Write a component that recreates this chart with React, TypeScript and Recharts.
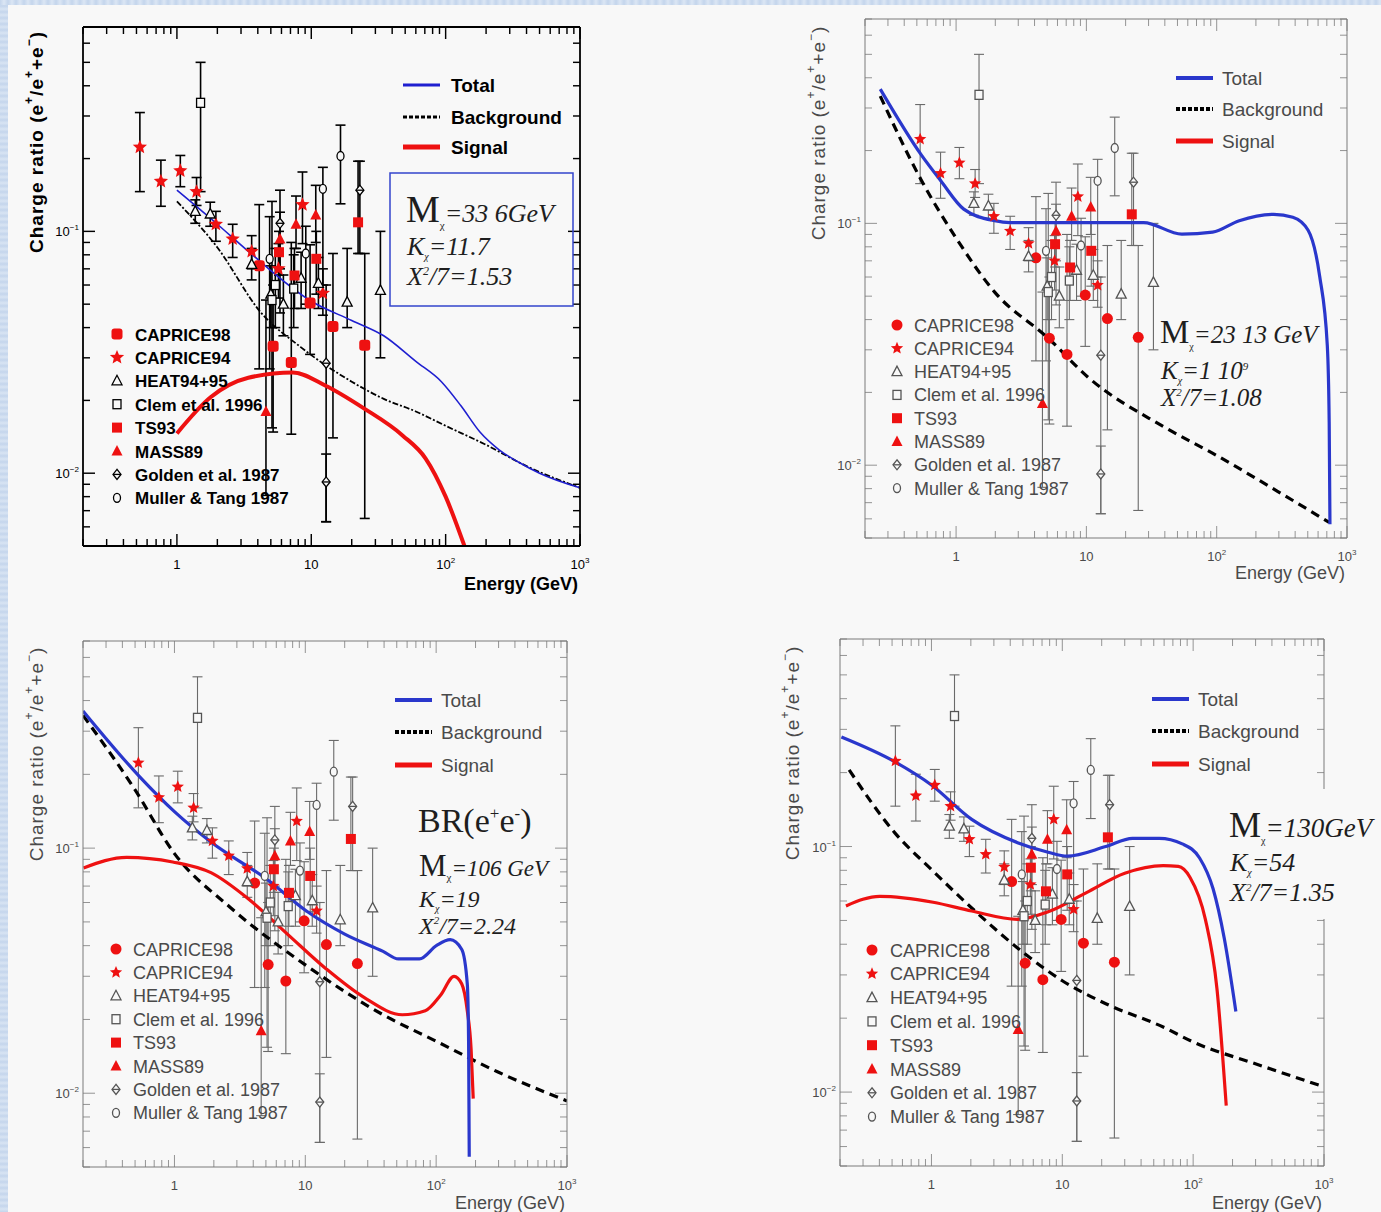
import React from "react";
import { ComposedChart, Line, Scatter, ErrorBar, XAxis, YAxis } from "recharts";

const PAGE_W = 1381;
const PAGE_H = 1212;
const BG = "#f8f8f8";
const RED = "#ee1111";
const SANS = "'Liberation Sans', Arial, sans-serif";
const SERIF = "'Liberation Serif', 'Times New Roman', serif";

// axes (log-log)
const xDomain = [0.2, 1000];
const yDomain = [0.005, 0.7];
const xMinorTicks = [0.2, 0.3, 0.4, 0.5, 0.6, 0.7, 0.8, 0.9, 2, 3, 4, 5, 6, 7, 8, 9, 20, 30, 40, 50, 60, 70, 80, 90, 200, 300, 400, 500, 600, 700, 800, 900];
const xMajorTicks = [1, 10, 100, 1000];
const xMajorLabels = ["1", "10", "10^2", "10^3"];
const yMinorTicks = [0.005, 0.006, 0.007, 0.008, 0.009, 0.02, 0.03, 0.04, 0.05, 0.06, 0.07, 0.08, 0.09, 0.2, 0.3, 0.4, 0.5, 0.6, 0.7];
const yMajorTicks = [0.01, 0.1];
const yMajorLabels = ["10^−2", "10^−1"];
const xTicks = [...xMinorTicks, ...xMajorTicks].sort((a, b) => a - b);
const yTicks = [...yMinorTicks, ...yMajorTicks].sort((a, b) => a - b);

// measurements: energy (GeV), e+/(e+ + e-), lower / upper end of error bar
const caprice98E = [4.1, 5.2, 7.1, 9.8, 14.5, 25];
const caprice98R = [0.072, 0.0335, 0.0287, 0.0505, 0.0404, 0.0338];
const caprice98Lo = [0.027, 0.0148, 0.0145, 0.031, 0.014, 0.0065];
const caprice98Hi = [0.129, 0.06, 0.09, 0.088, 0.081, 0.081];

const caprice94E = [0.53, 0.76, 1.06, 1.4, 1.95, 2.6, 3.6, 5.7, 8.6, 12.2];
const caprice94R = [0.223, 0.161, 0.178, 0.146, 0.107, 0.093, 0.0826, 0.07, 0.129, 0.0555];
const caprice94Lo = [0.146, 0.127, 0.153, 0.128, 0.091, 0.078, 0.07, 0.053, 0.089, 0.045];
const caprice94Hi = [0.31, 0.197, 0.206, 0.167, 0.121, 0.107, 0.096, 0.089, 0.176, 0.07];

const heatE = [1.37, 1.77, 3.6, 5.0, 6.2, 8.4, 11.3, 18.5, 32.7];
const heatR = [0.121, 0.118, 0.073, 0.055, 0.05, 0.064, 0.061, 0.051, 0.057];
const heatLo = [0.108, 0.105, 0.063, 0.04, 0.037, 0.048, 0.048, 0.04, 0.03];
const heatHi = [0.135, 0.132, 0.085, 0.072, 0.066, 0.082, 0.078, 0.085, 0.1];

const clemE = [1.5, 5.1, 5.4, 7.4];
const clemR = [0.34, 0.052, 0.06, 0.058];
const clemLo = [0.146, 0.0154, 0.04, 0.04];
const clemHi = [0.5, 0.133, 0.085, 0.08];

const ts93E = [5.75, 7.5, 10.9, 22.3];
const ts93R = [0.082, 0.0657, 0.077, 0.109];
const ts93Lo = [0.066, 0.048, 0.055, 0.081];
const ts93Hi = [0.1, 0.085, 0.1, 0.195];

const mass89E = [4.6, 5.85, 7.7, 10.8];
const mass89R = [0.018, 0.093, 0.107, 0.117];
const mass89Lo = [0.0081, 0.07, 0.085, 0.09];
const mass89Hi = [0.052, 0.12, 0.14, 0.155];

const goldenE = [5.85, 12.9, 12.9, 23];
const goldenR = [0.108, 0.0285, 0.0092, 0.148];
const goldenLo = [0.046, 0.0063, 0.0063, 0.081];
const goldenHi = [0.148, 0.06, 0.012, 0.195];

const mullerE = [4.9, 9.1, 12.2, 16.5];
const mullerR = [0.077, 0.081, 0.15, 0.205];
const mullerLo = [0.027, 0.05, 0.06, 0.13];
const mullerHi = [0.115, 0.105, 0.184, 0.275];

// model curves, one set per panel
const total1E = [1, 2, 3.4, 10, 20, 34.6, 60, 93, 130, 180, 250, 350, 500, 1000];
const total1R = [0.148, 0.107, 0.0827, 0.0514, 0.0428, 0.037, 0.029, 0.0239, 0.019, 0.0148, 0.0125, 0.0111, 0.01, 0.0087];
const bg1E = [1, 2, 4.2, 8.3, 20, 34.6, 60, 100, 200, 400, 1000];
const bg1R = [0.133, 0.0858, 0.0463, 0.0333, 0.0239, 0.0203, 0.018, 0.0157, 0.0131, 0.0107, 0.0087];
const sig1E = [1, 1.78, 3.4, 7.3, 12.8, 24.8, 48, 71, 100, 138];
const sig1R = [0.0146, 0.0206, 0.0248, 0.0261, 0.023, 0.0185, 0.0143, 0.0115, 0.008, 0.005];

const total2E = [0.262, 0.544, 0.763, 1.145, 1.97, 2.58, 27.5, 54, 93, 149, 274, 384, 503, 617, 706, 730, 740];
const total2R = [0.359, 0.191, 0.15, 0.1145, 0.1026, 0.1007, 0.1007, 0.0903, 0.092, 0.1026, 0.109, 0.106, 0.0936, 0.0604, 0.0313, 0.0151, 0.0057];
const bg2E = [0.262, 0.544, 1, 1.97, 5.07, 10.5, 38.5, 99, 293, 730];
const bg2R = [0.336, 0.15, 0.087, 0.0521, 0.0336, 0.0229, 0.0145, 0.011, 0.0078, 0.0058];

const total3E = [0.2, 0.545, 1, 1.9, 5.2, 10.2, 20, 39.3, 51.5, 74.6, 101, 128, 157, 173, 177, 179];
const total3R = [0.363, 0.195, 0.141, 0.106, 0.074, 0.0554, 0.0446, 0.0379, 0.0353, 0.0353, 0.0401, 0.0423, 0.0386, 0.0279, 0.0163, 0.0055];
const sig3E = [0.202, 0.431, 0.97, 1.9, 3.72, 7.3, 14.3, 28.1, 55.1, 82.6, 108, 137, 157, 173, 185, 192];
const sig3R = [0.083, 0.0917, 0.0878, 0.0794, 0.0617, 0.0446, 0.0323, 0.0246, 0.0209, 0.0217, 0.0251, 0.03, 0.0279, 0.0217, 0.0151, 0.0095];
const bg3E = [0.2, 0.493, 1, 2.66, 10, 39.3, 100, 297, 1000];
const bg3R = [0.348, 0.175, 0.095, 0.0574, 0.0334, 0.0209, 0.0163, 0.0122, 0.0093];

const total4E = [0.205, 0.527, 1, 2.03, 4.55, 7.8, 10.9, 21.5, 34.4, 55, 82.6, 112, 142, 173, 212];
const total4R = [0.279, 0.221, 0.178, 0.129, 0.1037, 0.0948, 0.0914, 0.1, 0.108, 0.108, 0.1025, 0.0898, 0.0673, 0.0422, 0.0213];
const sig4E = [0.222, 0.403, 1.03, 2.03, 4.55, 7.8, 15.3, 30, 59, 77, 94.5, 124, 152, 179];
const sig4R = [0.0573, 0.0627, 0.0593, 0.0546, 0.0505, 0.0542, 0.0649, 0.0778, 0.0836, 0.083, 0.075, 0.0505, 0.0264, 0.0088];
const bg4E = [0.235, 0.527, 1, 2.03, 5.2, 10, 21.5, 59, 100, 318, 1000];
const bg4R = [0.205, 0.1134, 0.0806, 0.0562, 0.0365, 0.0284, 0.0229, 0.0184, 0.016, 0.0129, 0.0105];

const curve = (E: number[], R: number[]) => E.map((e, i) => ({ e, r: R[i] }));
const withErr = (E: number[], R: number[], Lo: number[], Hi: number[]) =>
  E.map((e, i) => ({ e, r: R[i], err: [R[i] - Lo[i], Hi[i] - R[i]] }));

const datasets = [
  { name: "CAPRICE98", kind: "circle", data: withErr(caprice98E, caprice98R, caprice98Lo, caprice98Hi) },
  { name: "CAPRICE94", kind: "star", data: withErr(caprice94E, caprice94R, caprice94Lo, caprice94Hi) },
  { name: "HEAT94+95", kind: "openTriangle", data: withErr(heatE, heatR, heatLo, heatHi) },
  { name: "Clem et al. 1996", kind: "openSquare", data: withErr(clemE, clemR, clemLo, clemHi) },
  { name: "TS93", kind: "square", data: withErr(ts93E, ts93R, ts93Lo, ts93Hi) },
  { name: "MASS89", kind: "triangle", data: withErr(mass89E, mass89R, mass89Lo, mass89Hi) },
  { name: "Golden et al. 1987", kind: "golden", data: withErr(goldenE, goldenR, goldenLo, goldenHi) },
  { name: "Muller & Tang 1987", kind: "muller", data: withErr(mullerE, mullerR, mullerLo, mullerHi) },
];

type Theme = {
  dark: boolean;
  frame: string;
  frameW: number;
  text: string;
  bar: string;
  barW: number;
  open: string;
  blue: string;
  blueW: number;
  bgDash: string;
  bgW: number;
  sigW: number;
  weight: number;
  legendSize: number;
};

const darkTheme: Theme = {
  dark: true, frame: "#000", frameW: 1.8, text: "#000", bar: "#000", barW: 1.6, open: "#000",
  blue: "#1f1fd0", blueW: 1.6, bgDash: "6 2 2 2", bgW: 1.8, sigW: 4, weight: 700, legendSize: 17,
};
const lightTheme: Theme = {
  dark: false, frame: "#7a7a7a", frameW: 1, text: "#4a4a4a", bar: "#6a6a6a", barW: 1.1, open: "#555",
  blue: "#2a37cc", blueW: 3.2, bgDash: "9 6", bgW: 3.2, sigW: 3.2, weight: 400, legendSize: 18,
};

function starPts(x: number, y: number, r: number) {
  const pts: string[] = [];
  for (let i = 0; i < 10; i++) {
    const a = -Math.PI / 2 + (i * Math.PI) / 5;
    const rr = i % 2 ? r * 0.45 : r;
    pts.push(`${x + rr * Math.cos(a)},${y + rr * Math.sin(a)}`);
  }
  return pts.join(" ");
}

function Marker({ kind, x, y, theme }: { kind: string; x: number; y: number; theme: Theme }) {
  const o = theme.open;
  switch (kind) {
    case "circle":
      return theme.dark ? (
        <rect x={x - 5.5} y={y - 5.5} width={11} height={11} rx={3} fill={RED} />
      ) : (
        <circle cx={x} cy={y} r={5.5} fill={RED} />
      );
    case "star":
      return <polygon points={starPts(x, y, theme.dark ? 7.5 : 6.5)} fill={RED} />;
    case "square":
      return <rect x={x - 5} y={y - 5} width={10} height={10} fill={RED} />;
    case "triangle":
      return <polygon points={`${x},${y - 6} ${x - 5.5},${y + 4.5} ${x + 5.5},${y + 4.5}`} fill={RED} />;
    case "openTriangle":
      return <polygon points={`${x},${y - 5.5} ${x - 5},${y + 4} ${x + 5},${y + 4}`} fill={BG} stroke={o} strokeWidth={1.3} />;
    case "openSquare":
      return <rect x={x - 4} y={y - 4.5} width={8} height={9} fill={BG} stroke={o} strokeWidth={1.3} />;
    case "golden":
      return (
        <g>
          <polygon points={`${x},${y - 5} ${x - 4},${y} ${x},${y + 5} ${x + 4},${y}`} fill={BG} stroke={o} strokeWidth={1.3} />
          <line x1={x - 4} x2={x + 4} y1={y} y2={y} stroke={o} strokeWidth={1.3} />
        </g>
      );
    default:
      return <ellipse cx={x} cy={y} rx={3.5} ry={4.5} fill={BG} stroke={o} strokeWidth={1.3} />;
  }
}

function TickLabel({ x, y, label, anchor, color, size }: { x: number; y: number; label: string; anchor: "start" | "middle" | "end"; color: string; size: number }) {
  const [base, sup] = label.split("^");
  return (
    <text x={x} y={y} textAnchor={anchor} fill={color} fontSize={size} fontFamily={SANS}>
      {base}
      {sup && (
        <tspan dy={-6} fontSize={size * 0.62}>
          {sup}
        </tspan>
      )}
    </text>
  );
}

function xTick(side: "bottom" | "top", theme: Theme) {
  return (p: any) => {
    const i = xMajorTicks.indexOf(p.payload.value);
    const len = i >= 0 ? 12 : 7;
    const dir = side === "bottom" ? -1 : 1;
    return (
      <g>
        <line x1={p.x} x2={p.x} y1={p.y} y2={p.y + dir * len} stroke={theme.frame} strokeWidth={theme.frameW * 0.8} />
        {side === "bottom" && i >= 0 && (
          <TickLabel x={p.x} y={p.y + 23} label={xMajorLabels[i]} anchor="middle" color={theme.text} size={13} />
        )}
      </g>
    );
  };
}

function yTick(side: "left" | "right", theme: Theme) {
  return (p: any) => {
    const i = yMajorTicks.indexOf(p.payload.value);
    const len = i >= 0 ? 12 : 7;
    const dir = side === "left" ? 1 : -1;
    return (
      <g>
        <line x1={p.x} x2={p.x + dir * len} y1={p.y} y2={p.y} stroke={theme.frame} strokeWidth={theme.frameW * 0.8} />
        {side === "left" && i >= 0 && (
          <TickLabel x={p.x - 4} y={p.y + 5} label={yMajorLabels[i]} anchor="end" color={theme.text} size={13} />
        )}
      </g>
    );
  };
}

type Box = { l: number; t: number; r: number; b: number };
type Pt = { e: number; r: number };

const AX_B = 30;
const AX_T = 8;
const AX_L = 60;
const AX_R = 8;

function Panel({ box, theme, total, background, signal }: { box: Box; theme: Theme; total: Pt[]; background: Pt[]; signal?: Pt[] }) {
  const axisLine = { stroke: theme.frame, strokeWidth: theme.frameW };
  const common = { type: "number" as const, scale: "log" as const, allowDataOverflow: true, interval: 0 as const, tickSize: 0, tickMargin: 0, tickLine: false, axisLine };
  const margin = { top: box.t - AX_T, left: box.l - AX_L, right: PAGE_W - box.r - AX_R, bottom: PAGE_H - box.b - AX_B };
  return (
    <div style={{ position: "absolute", left: 0, top: 0 }}>
      <ComposedChart width={PAGE_W} height={PAGE_H} margin={margin}>
        <XAxis xAxisId="b" orientation="bottom" dataKey="e" domain={xDomain} ticks={xTicks} height={AX_B} tick={xTick("bottom", theme)} {...common} />
        <XAxis xAxisId="t" orientation="top" dataKey="e" domain={xDomain} ticks={xTicks} height={AX_T} tick={xTick("top", theme)} {...common} />
        <YAxis yAxisId="l" orientation="left" dataKey="r" domain={yDomain} ticks={yTicks} width={AX_L} tick={yTick("left", theme)} {...common} />
        <YAxis yAxisId="r" orientation="right" dataKey="r" domain={yDomain} ticks={yTicks} width={AX_R} tick={yTick("right", theme)} {...common} />
        {datasets.map((ds) => (
          <Scatter
            key={ds.name}
            xAxisId="b"
            yAxisId="l"
            data={ds.data}
            dataKey="r"
            isAnimationActive={false}
            shape={(p: any) => <Marker kind={ds.kind} x={p.cx} y={p.cy} theme={theme} />}
          >
            <ErrorBar dataKey="err" direction="y" width={5} stroke={theme.bar} strokeWidth={theme.barW} />
          </Scatter>
        ))}
        <Line xAxisId="b" yAxisId="l" data={background} dataKey="r" type="monotone" stroke="#000" strokeWidth={theme.bgW} strokeDasharray={theme.bgDash} dot={false} isAnimationActive={false} />
        {signal && (
          <Line xAxisId="b" yAxisId="l" data={signal} dataKey="r" type="monotone" stroke={RED} strokeWidth={theme.sigW} dot={false} isAnimationActive={false} />
        )}
        <Line xAxisId="b" yAxisId="l" data={total} dataKey="r" type="monotone" stroke={theme.blue} strokeWidth={theme.blueW} dot={false} isAnimationActive={false} />
      </ComposedChart>
    </div>
  );
}

type OverlayProps = {
  theme: Theme;
  box: Box;
  title: [number, number];
  energyY: number;
  lines: { x: number; tx: number; ys: number[] };
  legend: { mx: number; tx: number; y0: number; dy: number };
  children?: React.ReactNode;
};

function Overlay({ theme, box, title, energyY, lines, legend, children }: OverlayProps) {
  const lineItems = [
    { label: "Total", stroke: theme.blue, w: theme.dark ? 3 : 4, dash: undefined as string | undefined },
    { label: "Background", stroke: "#000", w: theme.dark ? 3 : 4, dash: "4 2" },
    { label: "Signal", stroke: RED, w: 5, dash: undefined as string | undefined },
  ];
  const fill = theme.text;
  return (
    <svg width={PAGE_W} height={PAGE_H} style={{ position: "absolute", left: 0, top: 0 }}>
      <text
        transform={`translate(${title[0]},${title[1]}) rotate(-90)`}
        textAnchor="middle"
        dominantBaseline="central"
        fontFamily={SANS}
        fontSize={19}
        letterSpacing={1}
        fontWeight={theme.dark ? 700 : 400}
        fill={fill}
      >
        Charge ratio (e<tspan dy={-7} fontSize={12}>+</tspan>
        <tspan dy={7}>/e</tspan>
        <tspan dy={-7} fontSize={12}>+</tspan>
        <tspan dy={7}>+e</tspan>
        <tspan dy={-7} fontSize={12}>−</tspan>
        <tspan dy={7}>)</tspan>
      </text>
      <text x={box.r - 2} y={energyY} textAnchor="end" fontFamily={SANS} fontSize={18} fontWeight={theme.dark ? 700 : 400} fill={fill}>
        Energy (GeV)
      </text>
      {lineItems.map((it, i) => (
        <g key={it.label}>
          <line x1={lines.x} x2={lines.x + 37} y1={lines.ys[i]} y2={lines.ys[i]} stroke={it.stroke} strokeWidth={it.w} strokeDasharray={it.dash} />
          <text x={lines.tx} y={lines.ys[i] + 7} fontFamily={SANS} fontSize={19} fontWeight={theme.weight} fill={fill}>
            {it.label}
          </text>
        </g>
      ))}
      {datasets.map((ds, i) => {
        const y = legend.y0 + i * legend.dy;
        return (
          <g key={ds.name}>
            <Marker kind={ds.kind} x={legend.mx} y={y} theme={theme} />
            <text x={legend.tx} y={y + 6.5} fontFamily={SANS} fontSize={theme.legendSize} fontWeight={theme.weight} fill={fill}>
              {ds.name}
            </text>
          </g>
        );
      })}
      {children}
    </svg>
  );
}

const box1: Box = { l: 83, t: 27, r: 580, b: 546 };
const box2: Box = { l: 865, t: 19, r: 1347, b: 538 };
const box3: Box = { l: 83, t: 641, r: 567, b: 1167 };
const box4: Box = { l: 840, t: 639, r: 1324, b: 1166 };

const ink = "#1e1e1e";

export default function App() {
  return (
    <div style={{ position: "absolute", left: 0, top: 0, width: PAGE_W, height: PAGE_H, background: BG, overflow: "hidden" }}>
      <div style={{ position: "absolute", left: 0, top: 0, width: 8, height: PAGE_H, background: "repeating-linear-gradient(180deg,#c4d5ec 0px,#d8e4f3 3px,#c4d5ec 6px)" }} />
      <div style={{ position: "absolute", left: 0, top: 0, width: PAGE_W, height: 5, background: "repeating-linear-gradient(90deg,#c4d5ec 0px,#dbe6f4 4px,#c4d5ec 8px)" }} />

      <Panel box={box1} theme={darkTheme} total={curve(total1E, total1R)} background={curve(bg1E, bg1R)} signal={curve(sig1E, sig1R)} />
      <Panel box={box2} theme={lightTheme} total={curve(total2E, total2R)} background={curve(bg2E, bg2R)} />
      <Panel box={box3} theme={lightTheme} total={curve(total3E, total3R)} background={curve(bg3E, bg3R)} signal={curve(sig3E, sig3R)} />
      <Panel box={box4} theme={lightTheme} total={curve(total4E, total4R)} background={curve(bg4E, bg4R)} signal={curve(sig4E, sig4R)} />

      <Overlay theme={darkTheme} box={box1} title={[36, 142]} energyY={590} lines={{ x: 403, tx: 451, ys: [85, 117, 147] }} legend={{ mx: 117, tx: 135, y0: 334, dy: 23.4 }}>
        <rect x={390} y={173} width={183} height={133} fill="none" stroke="#3344cc" strokeWidth={1.5} />
        <text x={406} y={222} fontFamily={SERIF} fill={ink}>
          <tspan fontSize={38}>M</tspan>
          <tspan fontSize={11} dy={7}>χ</tspan>
          <tspan fontSize={26} fontStyle="italic" dy={-7}>=33 6GeV</tspan>
        </text>
        <text x={407} y={255} fontFamily={SERIF} fontSize={26} fontStyle="italic" fill={ink}>
          K<tspan fontSize={10} dy={5}>χ</tspan>
          <tspan dy={-5}>=11.7</tspan>
        </text>
        <text x={407} y={285} fontFamily={SERIF} fontSize={26} fontStyle="italic" fill={ink}>
          X<tspan fontSize={12} dy={-10}>2</tspan>
          <tspan dy={10}>/7=1.53</tspan>
        </text>
      </Overlay>

      <Overlay theme={lightTheme} box={box2} title={[818, 133]} energyY={579} lines={{ x: 1176, tx: 1222, ys: [78, 109, 141] }} legend={{ mx: 897, tx: 914, y0: 325, dy: 23.3 }}>
        <text x={1160} y={343} fontFamily={SERIF} fill={ink}>
          <tspan fontSize={33}>M</tspan>
          <tspan fontSize={10} dy={7}>χ</tspan>
          <tspan fontSize={25} fontStyle="italic" dy={-7}>=23 13 GeV</tspan>
        </text>
        <text x={1161} y={379} fontFamily={SERIF} fontSize={25} fontStyle="italic" fill={ink}>
          K<tspan fontSize={10} dy={5}>χ</tspan>
          <tspan dy={-5}>=1 10</tspan>
          <tspan fontSize={11} dy={-9}>9</tspan>
        </text>
        <text x={1161} y={406} fontFamily={SERIF} fontSize={25} fontStyle="italic" fill={ink}>
          X<tspan fontSize={11} dy={-10}>2</tspan>
          <tspan dy={10}>/7=1.08</tspan>
        </text>
      </Overlay>

      <Overlay theme={lightTheme} box={box3} title={[36, 754]} energyY={1209} lines={{ x: 395, tx: 441, ys: [700, 732, 765] }} legend={{ mx: 116, tx: 133, y0: 949, dy: 23.4 }}>
        <text x={418} y={832} fontFamily={SERIF} fontSize={34} fill={ink}>
          BR(e<tspan fontSize={17} dy={-13}>+</tspan>
          <tspan dy={13}>e</tspan>
          <tspan fontSize={17} dy={-13}>-</tspan>
          <tspan dy={13}>)</tspan>
        </text>
        <text x={419} y={876} fontFamily={SERIF} fill={ink}>
          <tspan fontSize={31}>M</tspan>
          <tspan fontSize={11} dy={5}>χ</tspan>
          <tspan fontSize={23} fontStyle="italic" dy={-5}>=106 GeV</tspan>
        </text>
        <text x={419} y={907} fontFamily={SERIF} fontSize={24} fontStyle="italic" fill={ink}>
          K<tspan fontSize={10} dy={5}>χ</tspan>
          <tspan dy={-5}>=19</tspan>
        </text>
        <text x={419} y={934} fontFamily={SERIF} fontSize={24} fontStyle="italic" fill={ink}>
          X<tspan fontSize={11} dy={-10}>2</tspan>
          <tspan dy={10}>/7=2.24</tspan>
        </text>
      </Overlay>

      <Overlay theme={lightTheme} box={box4} title={[792, 753]} energyY={1209} lines={{ x: 1152, tx: 1198, ys: [699, 731, 764] }} legend={{ mx: 872, tx: 890, y0: 950, dy: 23.8 }}>
        <rect x={1300} y={789} width={40} height={130} fill={BG} />
        <text x={1229} y={837} fontFamily={SERIF} fill={ink}>
          <tspan fontSize={36}>M</tspan>
          <tspan fontSize={10} dy={7}>χ</tspan>
          <tspan fontSize={27} fontStyle="italic" dy={-7}>=130GeV</tspan>
        </text>
        <text x={1230} y={871} fontFamily={SERIF} fontSize={26} fontStyle="italic" fill={ink}>
          K<tspan fontSize={10} dy={5}>χ</tspan>
          <tspan dy={-5}>=54</tspan>
        </text>
        <text x={1230} y={901} fontFamily={SERIF} fontSize={26} fontStyle="italic" fill={ink}>
          X<tspan fontSize={11} dy={-10}>2</tspan>
          <tspan dy={10}>/7=1.35</tspan>
        </text>
      </Overlay>
    </div>
  );
}
